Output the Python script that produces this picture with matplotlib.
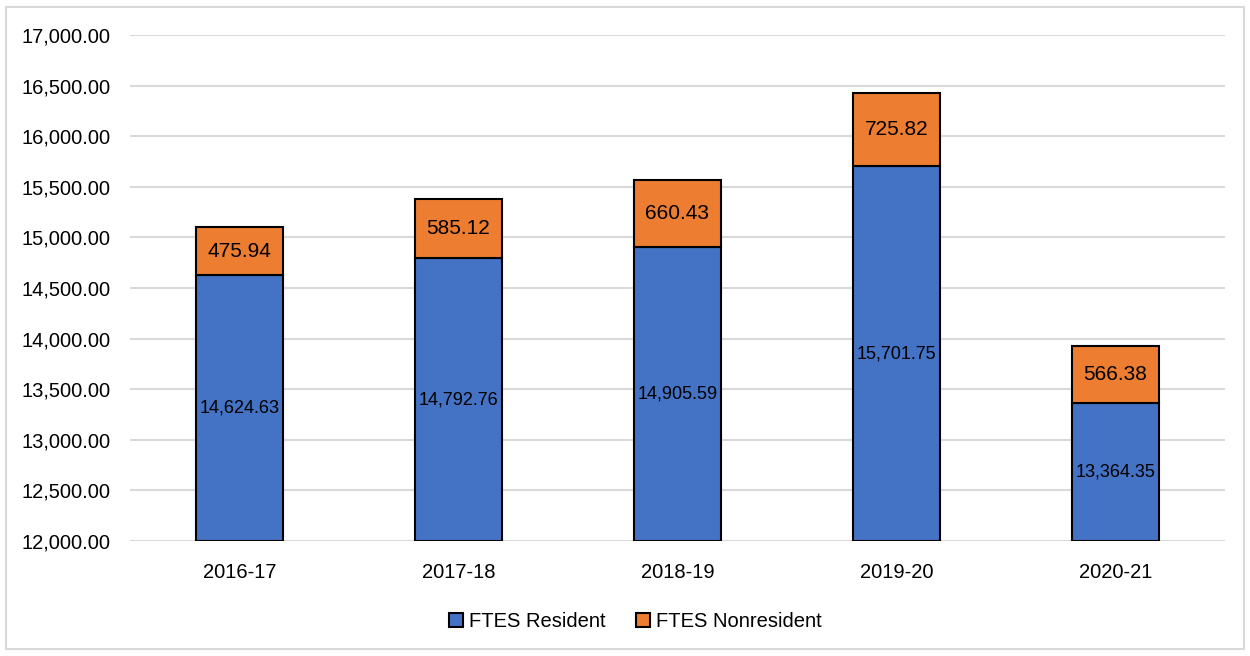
import matplotlib.pyplot as plt
from matplotlib.patches import Rectangle

plt.rcParams['font.family'] = ['Liberation Sans', 'DejaVu Sans']

years = ['2016-17', '2017-18', '2018-19', '2019-20', '2020-21']
resident = [14624.63, 14792.76, 14905.59, 15701.75, 13364.35]
nonresident = [475.94, 585.12, 660.43, 725.82, 566.38]
yticks = [12000, 12500, 13000, 13500, 14000, 14500, 15000, 15500, 16000, 16500, 17000]

blue = '#4472C4'
orange = '#ED7D31'
ymin, ymax = 12000, 17000

fig = plt.figure(figsize=(12.5, 6.56), dpi=100)
ax = fig.add_axes([0.104, 0.1753, 0.876, 0.7713])

x = range(len(years))
ax.bar(x, [r - ymin for r in resident], bottom=ymin, width=0.40, color=blue,
       edgecolor='black', linewidth=1.5, label='FTES Resident', zorder=3)
ax.bar(x, nonresident, bottom=resident, width=0.40, color=orange,
       edgecolor='black', linewidth=1.5, label='FTES Nonresident', zorder=3)

for i in x:
    ax.text(i, (ymin + resident[i]) / 2, f'{resident[i]:,.2f}', ha='center', va='center',
            fontsize=13, color='black', zorder=4)
    ax.text(i, resident[i] + nonresident[i] / 2, f'{nonresident[i]:,.2f}', ha='center',
            va='center', fontsize=15, color='black', zorder=4)

ax.set_ylim(ymin, ymax)
ax.set_xlim(-0.5, len(years) - 0.5)
ax.set_yticks(yticks)
ax.set_yticklabels([f'{v:,.2f}' for v in yticks])
ax.set_xticks(list(x))
ax.set_xticklabels(years)
ax.tick_params(axis='both', length=0, labelsize=14.5, colors='black')
ax.tick_params(axis='y', pad=14)
ax.tick_params(axis='x', pad=16)
ax.grid(axis='y', color='#D9D9D9', linewidth=1.5, zorder=0)
for s in ax.spines.values():
    s.set_visible(False)

fig.legend(loc='center', bbox_to_anchor=(0.508, 0.053), ncol=2, frameon=False,
           fontsize=14.5, handlelength=0.7, handleheight=0.7, handletextpad=0.3,
           columnspacing=1.5)

fig.patches.append(Rectangle((0.005, 0.01), 0.99, 0.98, transform=fig.transFigure,
                             fill=False, edgecolor='#D9D9D9', linewidth=1.5))

fig.savefig('out.png', dpi=100)
